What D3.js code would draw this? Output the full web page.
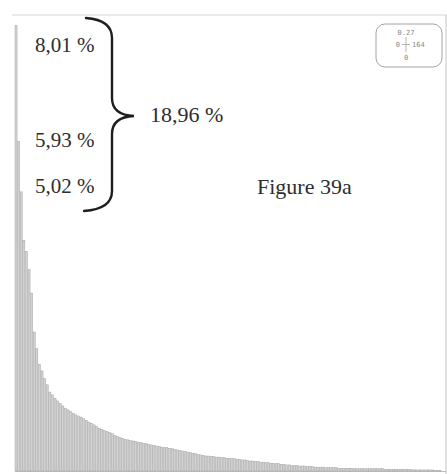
<!DOCTYPE html>
<html>
<head>
<meta charset="utf-8">
<script src="https://cdn.jsdelivr.net/npm/d3@7"></script>
<style>
  body { margin: 0; background: #fff; }
  svg { display: block; }
  .note { font-family: "Liberation Serif", "Times New Roman", serif; font-size: 21px; fill: #2e2e2e; }
  .big { font-size: 22px; }
  .mini { font-family: "DejaVu Sans Mono", monospace; font-size: 7px; fill: #888; }
</style>
</head>
<body>
<div id="chart"></div>
<script>
// parts in %, sorted descending (164 items)
const shares = [
  8.01, 5.93, 5.02, 4.15, 3.95, 3.62, 3.20, 2.50, 2.20, 1.92,
  1.80, 1.66, 1.55, 1.42, 1.37, 1.31, 1.26, 1.21, 1.17, 1.13,
  1.10, 1.07, 1.04, 1.01, 0.99, 0.97, 0.94, 0.91, 0.88, 0.86,
  0.83, 0.80, 0.77, 0.75, 0.73, 0.71, 0.69, 0.67, 0.64, 0.62,
  0.60, 0.59, 0.57, 0.56, 0.55, 0.54, 0.53, 0.52, 0.51, 0.50,
  0.49, 0.48, 0.47, 0.46, 0.45, 0.44, 0.43, 0.42, 0.42, 0.41,
  0.40, 0.39, 0.38, 0.37, 0.36, 0.35, 0.34, 0.33, 0.32, 0.31,
  0.30, 0.29, 0.28, 0.27, 0.27, 0.26, 0.26, 0.25, 0.25, 0.24,
  0.24, 0.23, 0.23, 0.22, 0.22, 0.21, 0.21, 0.20, 0.20, 0.19,
  0.18, 0.18, 0.17, 0.17, 0.16, 0.16, 0.15, 0.15, 0.14, 0.14,
  0.13, 0.13, 0.12, 0.12, 0.11, 0.11, 0.10, 0.10, 0.10, 0.09,
  0.09, 0.09, 0.08, 0.08, 0.08, 0.07, 0.07, 0.07, 0.07, 0.06,
  0.06, 0.06, 0.06, 0.06, 0.05, 0.05, 0.05, 0.05, 0.05, 0.05,
  0.04, 0.04, 0.04, 0.04, 0.04, 0.04, 0.04, 0.04, 0.04, 0.04,
  0.04, 0.04, 0.03, 0.03, 0.03, 0.03, 0.03, 0.03, 0.03, 0.03,
  0.03, 0.03, 0.03, 0.02, 0.02, 0.02, 0.02, 0.02, 0.02, 0.02,
  0.02, 0.01, 0.01, 0.01
];

// labels of the three biggest bars, and their sum
const topLabels = ["8,01 %", "5,93 %", "5,02 %"];
const sumLabel = "18,96 %";
const figureTitle = "Figure 39a";

// little range box in the corner
const miniTop = "0.27";
const miniLeft = "0";
const miniRight = "164";
const miniBottom = "0";

const W = 447, H = 474;
const frame = {left: 15, right: 446, top: 15, bottom: 471};

const svg = d3.select('#chart').append('svg')
    .attr('width', W)
    .attr('height', H);

const x = d3.scaleBand()
    .domain(d3.range(shares.length))
    .range([frame.left, 441])
    .paddingInner(0.2);

const y = d3.scaleLinear()
    .domain([0, 8.2])
    .range([frame.bottom, frame.top]);

// cadre
svg.append('line')
    .attr('x1', 12).attr('x2', W).attr('y1', frame.top).attr('y2', frame.top)
    .attr('stroke', '#d6d6d6').attr('stroke-width', 1);
svg.append('line')
    .attr('x1', frame.right).attr('x2', frame.right).attr('y1', frame.top).attr('y2', H)
    .attr('stroke', '#c4c4c4').attr('stroke-width', 1);
svg.append('line')
    .attr('x1', frame.left).attr('x2', frame.right).attr('y1', frame.bottom + 0.5).attr('y2', frame.bottom + 0.5)
    .attr('stroke', '#bdbdbd').attr('stroke-width', 1);

// barres
svg.selectAll('rect.bar')
    .data(shares)
    .enter()
    .append('rect')
    .attr('class', 'bar')
    .attr('x', (d, i) => x(i))
    .attr('width', x.bandwidth())
    .attr('y', d => y(d))
    .attr('height', d => y(0) - y(d))
    .attr('fill', '#d2d2d2')
    .attr('stroke', '#9a9a9a')
    .attr('stroke-width', 0.4);

// labels
const labelY = [52, 147, 193];
svg.selectAll('text.pct')
    .data(topLabels)
    .enter()
    .append('text')
    .attr('class', 'note pct')
    .attr('x', 35)
    .attr('y', (d, i) => labelY[i])
    .text(d => d);

// accolade
const bx = 112, tipX = 134, tipY = 116, yTop = 18, yBot = 211;
const p = d3.path();
p.moveTo(86, yTop);
p.quadraticCurveTo(bx, yTop + 2, bx, yTop + 20);
p.lineTo(bx, tipY - 18);
p.quadraticCurveTo(bx, tipY - 1, tipX, tipY);
p.quadraticCurveTo(bx, tipY + 1, bx, tipY + 18);
p.lineTo(bx, yBot - 20);
p.quadraticCurveTo(bx, yBot - 2, 84, yBot);
svg.append('path')
    .attr('d', p.toString())
    .attr('fill', 'none')
    .attr('stroke', '#1e1e1e')
    .attr('stroke-width', 2.4)
    .attr('stroke-linecap', 'round');

svg.append('text')
    .attr('class', 'note big')
    .attr('x', 150)
    .attr('y', 122)
    .text(sumLabel);

svg.append('text')
    .attr('class', 'note big')
    .attr('x', 257)
    .attr('y', 194)
    .text(figureTitle);

// petit cadre en haut à droite
const mini = svg.append('g').attr('transform', 'translate(376,24)');
mini.append('rect')
    .attr('width', 66).attr('height', 43).attr('rx', 9)
    .attr('fill', '#fff').attr('stroke', '#8a8a8a').attr('stroke-width', 0.8);
mini.append('line')
    .attr('x1', 30).attr('x2', 30).attr('y1', 13).attr('y2', 28)
    .attr('stroke', '#999').attr('stroke-width', 0.7);
mini.append('line')
    .attr('x1', 26).attr('x2', 34).attr('y1', 20.5).attr('y2', 20.5)
    .attr('stroke', '#999').attr('stroke-width', 0.7);
mini.append('text').attr('class', 'mini').attr('x', 30).attr('y', 11).attr('text-anchor', 'middle').text(miniTop);
mini.append('text').attr('class', 'mini').attr('x', 24).attr('y', 23).attr('text-anchor', 'end').text(miniLeft);
mini.append('text').attr('class', 'mini').attr('x', 36).attr('y', 23).text(miniRight);
mini.append('text').attr('class', 'mini').attr('x', 30).attr('y', 36).attr('text-anchor', 'middle').text(miniBottom);
</script>
</body>
</html>
